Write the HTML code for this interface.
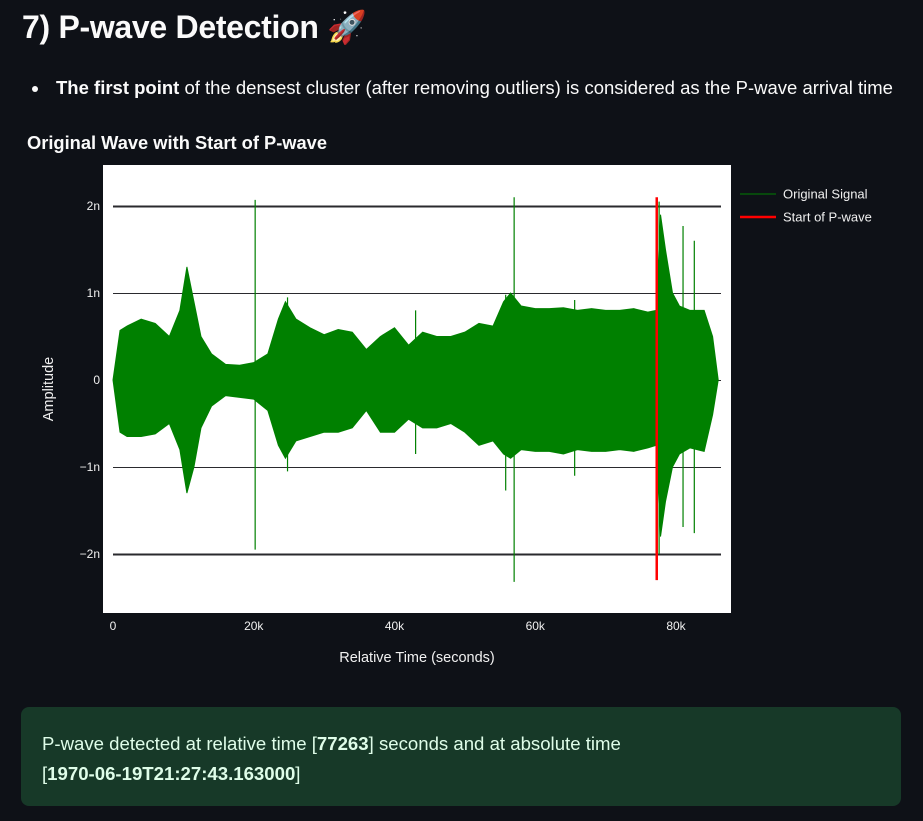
<!DOCTYPE html>
<html><head><meta charset="utf-8">
<style>
body{margin:0;background:#0e1117;width:923px;height:821px;overflow:hidden;font-family:"Liberation Sans",sans-serif;color:#fafafa;position:relative}
.abs{position:absolute}
</style></head><body>
<div class="abs" style="left:22px;top:8px;font-size:32px;font-weight:bold;letter-spacing:-0.3px">7) P-wave Detection 🚀</div>
<div class="abs" style="left:32px;top:77px;font-size:18.5px;white-space:nowrap"><span style="display:inline-block;width:6px;height:6px;border-radius:3px;background:#fafafa;vertical-align:middle;margin-right:18px"></span><b>The first point</b> of the densest cluster (after removing outliers) is considered as the P-wave arrival time</div>
<div class="abs" style="left:27px;top:132px;font-size:18.3px;font-weight:bold">Original Wave with Start of P-wave</div>
<svg class="abs" style="left:0;top:0" width="923" height="700" id="chart"></svg>
<div class="abs" style="left:21px;top:707px;width:880px;height:99px;background:#173928;border-radius:8px;box-sizing:border-box;padding:22px 21px;font-size:18.6px;line-height:30px;color:#dffde9;white-space:nowrap">P-wave detected at relative time [<b>77263</b>] seconds and at absolute time<br>[<b>1970-06-19T21:27:43.163000</b>]</div>
<script>
const envTimes=[0,1000,2000,4000,6000,8000,9500,10500,11500,12500,14000,16000,18000,20000,22000,23500,24500,26000,28000,30000,32000,34000,36000,38000,40000,42000,44000,46000,48000,50000,52000,54000,55500,56500,58000,60000,62000,64000,66000,68000,70000,72000,74000,76000,77200,77800,78500,79500,80500,82000,84000,85200,86000];
const envUpper=[0,0.57,0.62,0.7,0.65,0.5,0.8,1.3,0.9,0.5,0.3,0.18,0.17,0.2,0.3,0.7,0.9,0.7,0.6,0.52,0.58,0.55,0.35,0.5,0.6,0.4,0.55,0.5,0.5,0.55,0.65,0.62,0.9,1.0,0.85,0.82,0.82,0.83,0.8,0.82,0.8,0.8,0.82,0.78,0.8,1.9,1.5,1.0,0.85,0.8,0.8,0.5,0];
const envLower=[0,0.6,0.65,0.65,0.62,0.5,0.8,1.3,1.0,0.55,0.3,0.18,0.2,0.22,0.35,0.75,0.9,0.7,0.65,0.6,0.6,0.55,0.35,0.6,0.6,0.45,0.55,0.55,0.5,0.6,0.75,0.7,0.85,0.9,0.8,0.82,0.82,0.85,0.8,0.82,0.82,0.8,0.82,0.78,0.75,1.8,1.4,1.0,0.85,0.78,0.82,0.4,0];
const spikeTimes=[20200,24800,43000,55800,57000,65600,77600,81000,82600];
const spikeUp=[2.07,0.95,0.8,0.98,2.1,0.92,2.05,1.77,1.6];
const spikeDown=[-1.95,-1.05,-0.85,-1.27,-2.32,-1.1,-2.0,-1.69,-1.76];
const yTicks=[2,1,0,-1,-2];
const yTickLabels=["2n","1n","0","−1n","−2n"];
const xTicks=[0,20000,40000,60000,80000];
const xTickLabels=["0","20k","40k","60k","80k"];
const pwaveTime=77263;
const pwaveRange=[-2.3,2.1];

const svg=document.getElementById('chart');
const NS='http://www.w3.org/2000/svg';
const X=t=>113+t*0.0070375;
const Y=v=>380-v*87;
function mk(tag,attrs){const e=document.createElementNS(NS,tag);for(const k in attrs)e.setAttribute(k,attrs[k]);svg.appendChild(e);return e;}
const bg=mk('rect',{x:103,y:165,width:628,height:448,fill:'#fff'});


yTicks.forEach((v,i)=>{
  const l=mk('line',{x1:113,x2:721,y1:Y(v)+0.5,y2:Y(v)+0.5,stroke:'#2a2a2e','stroke-width':Math.abs(v)==2?2:1});
  
  
  const t=mk('text',{x:100,y:Y(v)+4,'text-anchor':'end','font-size':12,fill:'#f0f0f0'});
  t.textContent=yTickLabels[i];
  
  
});
xTicks.forEach((v,i)=>{
  const t=mk('text',{x:X(v),y:630,'text-anchor':'middle','font-size':12,fill:'#f0f0f0'});
  t.textContent=xTickLabels[i];
  
  
});
let d='M'+X(envTimes[0])+','+Y(envUpper[0]);
for(let i=1;i<envTimes.length;i++)d+='L'+X(envTimes[i])+','+Y(envUpper[i]);
for(let i=envTimes.length-1;i>=0;i--)d+='L'+X(envTimes[i])+','+Y(-envLower[i]);
const wave=mk('path',{d:d+'Z',fill:'#008000',stroke:'#008000','stroke-width':1});


spikeTimes.forEach((t,i)=>{
  const s=mk('line',{x1:X(t),x2:X(t),y1:Y(spikeUp[i]),y2:Y(spikeDown[i]),stroke:'#008000','stroke-width':1.2});
  
  
});
const p=mk('line',{x1:X(pwaveTime),x2:X(pwaveTime),y1:Y(pwaveRange[1]),y2:Y(pwaveRange[0]),stroke:'#ff0000','stroke-width':2.5});


const xt=mk('text',{x:417,y:662,'text-anchor':'middle','font-size':14.5,fill:'#f0f0f0'});
xt.textContent='Relative Time (seconds)';


const yt=mk('text',{x:53,y:389,'text-anchor':'middle','font-size':14.5,fill:'#f0f0f0',transform:'rotate(-90 53 389)'});
yt.textContent='Amplitude';


[['Original Signal','#008000',1,194],['Start of P-wave','#ff0000',2.5,217]].forEach(e=>{
  const l=mk('line',{x1:740,x2:776,y1:e[3],y2:e[3],stroke:e[1],'stroke-width':e[2]});
  
  
  const t=mk('text',{x:783,y:e[3]+4.5,'font-size':13,fill:'#f0f0f0'});
  t.textContent=e[0];
  
  
});
</script>
</body></html>
